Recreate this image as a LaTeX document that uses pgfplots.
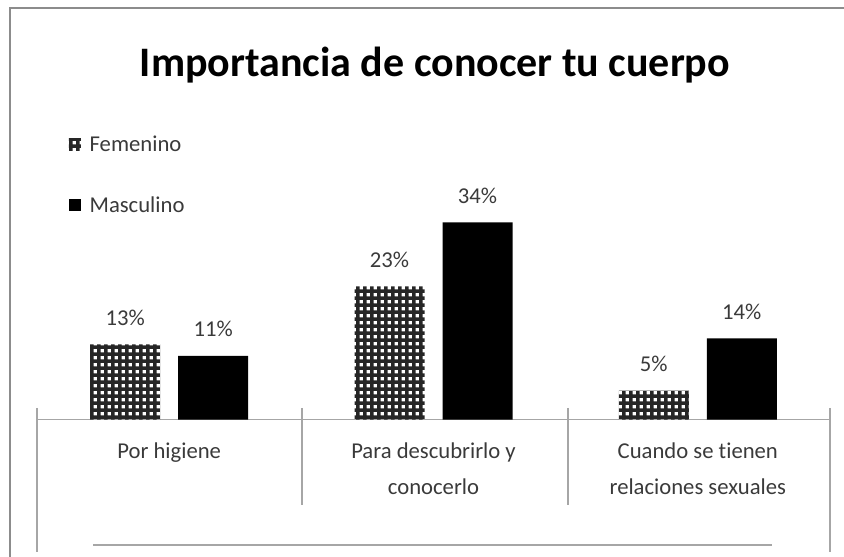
\documentclass[border=0pt]{standalone}
\usepackage{fontspec}
\setmainfont{Carlito}[Ligatures={NoCommon}]
\usepackage{pgfplots}
\pgfplotsset{compat=1.18}
\usetikzlibrary{patterns}

% checker-like fill used by Excel for "Femenino"
\pgfdeclarepatternformonly{femgrid}{\pgfpointorigin}{\pgfpoint{5.2pt}{5.2pt}}{\pgfpoint{5.2pt}{5.2pt}}{
  \pgfpathrectangle{\pgfpointorigin}{\pgfpoint{5.2pt}{2.8pt}}
  \pgfpathrectangle{\pgfpointorigin}{\pgfpoint{2.8pt}{5.2pt}}
  \pgfusepath{fill}}

\definecolor{txt}{HTML}{3A3A3A}
\definecolor{framec}{HTML}{8C8C8C}
\definecolor{rulec}{HTML}{A6A6A6}

\begin{document}
\begin{tikzpicture}
\useasboundingbox (0pt,0pt) rectangle (633pt,417.75pt);
\begin{scope}[x=0.75pt, y=-0.75pt, yshift=417.75pt]
\draw[framec, line width=1.5pt] (10,575) -- (10,8) -- (860,8);
\node[anchor=base, font=\fontsize{31.5}{36}\selectfont\bfseries] at (435,77) {Importancia de conocer tu cuerpo};
\end{scope}

\begin{axis}[
   at={(27.75pt,103pt)}, anchor=south west,
   scale only axis,
   width=594.75pt, height=174pt,
   ybar,
   xmin=-0.5, xmax=2.5,
   ymin=0, ymax=40,
   axis y line=none,
   axis x line*=bottom,
   x axis line style={draw=rulec, line width=0.8pt},
   xtick={0,1,2},
   xticklabels={Por higiene, {Para descubrirlo y\\conocerlo}, {Cuando se tienen\\relaciones sexuales}},
   x tick label style={align=center, font=\fontsize{17}{27}\selectfont, text=txt, yshift=-14pt},
   major tick length=0pt,
   ytick=\empty,
   clip=false,
   bar width=52.5pt,
   /pgf/number format/assume math mode=true,
   nodes near coords={\pgfmathprintnumber{\pgfplotspointmeta}\%},
   every node near coord/.append style={font=\fontsize{17}{20}\selectfont, text=txt, inner sep=0pt, yshift=14pt},
   legend style={at={(axis description cs:0.040,1.235)}, anchor=north west, draw=none, fill=none,
                 font=\fontsize{17}{20}\selectfont, text=txt, row sep=28pt, inner sep=0pt},
   legend cell align=left,
   legend image code/.code={\fill[#1] (0pt,-4.5pt) rectangle (9pt,4.5pt); \path (13.5pt,0pt);},
]
\addplot[bar shift=-33pt, draw=none, pattern=femgrid, pattern color=black!85] coordinates {(0,13) (1,23) (2,5)};
\addlegendentry{Femenino}
\addplot[bar shift=33pt, draw=none, fill=black] coordinates {(0,11) (1,34) (2,14)};
\addlegendentry{Masculino}
\end{axis}

\begin{scope}[x=0.75pt, y=-0.75pt, yshift=417.75pt]
\draw[rulec, line width=0.8pt] (37,408) -- (37,552) (830,408) -- (830,552)
      (302,408) -- (302,505) (568,408) -- (568,505);
\draw[rulec, line width=2pt] (93,545) -- (772,545);
\end{scope}
\end{tikzpicture}
\end{document}
